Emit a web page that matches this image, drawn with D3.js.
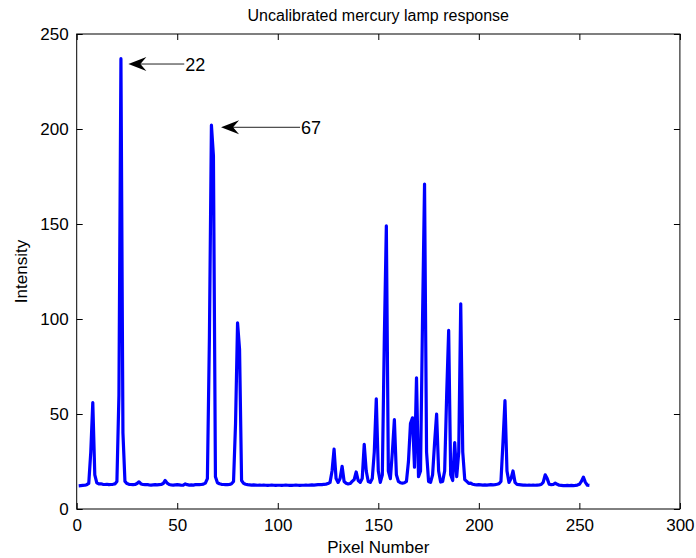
<!DOCTYPE html>
<html>
<head>
<meta charset="utf-8">
<script src="https://cdn.jsdelivr.net/npm/d3@7"></script>
<style>
  html, body { margin: 0; padding: 0; background: #fff; }
  svg text { font-family: "Liberation Sans", Arial, Helvetica, sans-serif; fill: #000; }
</style>
</head>
<body>
<svg id="chart" width="696" height="558"></svg>
<script>
// ---- Data ----
const title = "Uncalibrated mercury lamp response";
const xLabel = "Pixel Number";
const yLabel = "Intensity";
const xTicks = [0, 50, 100, 150, 200, 250, 300];
const yTicks = [0, 50, 100, 150, 200, 250];
const pixelStart = 1;
const intensity = [
  12.2, 12.3, 12.4, 12.5, 12.8, 13.5, 30, 56, 18, 13.8,
  13.2, 13.3, 13.0, 12.9, 13.0, 12.8, 12.9, 13.0, 13.2, 14.5,
  60, 237, 40, 14.5, 13.4, 13.0, 12.9, 12.8, 12.9, 13.4,
  14.3, 13.2, 12.9, 12.8, 12.9, 12.7, 12.6, 12.7, 12.8, 12.7,
  12.8, 12.9, 13.4, 15.0, 13.6, 12.9, 12.7, 12.6, 12.7, 12.8,
  12.7, 12.5, 12.6, 13.2, 12.8, 12.6, 12.7, 12.6, 12.8, 12.9,
  12.8, 12.9, 13.1, 13.6, 16, 90, 202, 186, 17, 13.8,
  13.3, 13.0, 12.9, 12.8, 12.8, 12.9, 13.3, 14.5, 45, 98,
  84, 15, 13.5, 13.0, 12.8, 12.7, 12.6, 12.7, 12.6, 12.5,
  12.6, 12.5, 12.6, 12.5, 12.4, 12.5, 12.6, 12.5, 12.4, 12.5,
  12.5, 12.4, 12.5, 12.6, 12.5, 12.4, 12.4, 12.5, 12.6, 12.5,
  12.4, 12.5, 12.5, 12.6, 12.5, 12.6, 12.7, 12.6, 12.7, 12.8,
  12.9, 12.8, 13.0, 13.1, 13.4, 14.0, 20, 31.5, 16, 14.0,
  16, 22.5, 14.5, 13.6, 13.2, 13.4, 14.5, 15.5, 19.5, 15.0,
  14.0, 16, 34, 20, 14.5, 14.0, 16, 30, 58, 20,
  14.0, 18, 90, 149, 20, 16, 30, 47, 18, 14.5,
  13.8, 13.6, 13.8, 14.5, 25, 45, 48, 22, 69, 17,
  20, 100, 171, 30, 14.5, 14.0, 18, 35, 50, 20,
  14.2, 14.5, 20, 60, 94, 18, 15, 35, 17, 30,
  108, 30, 15.5, 14.5, 13.5, 13.6, 13.0, 12.8, 12.7, 12.8,
  12.7, 12.6, 12.7, 12.6, 12.7, 12.8, 12.7, 12.8, 13.0, 13.3,
  14.5, 35, 57, 20, 14.0, 16, 20, 14, 12.9, 12.8,
  12.7, 12.6, 12.6, 12.5, 12.6, 12.5, 12.6, 12.5, 12.6, 12.7,
  12.9, 14.0, 18, 16, 13.0, 12.8, 12.9, 13.6, 13.0, 12.5,
  12.4, 12.3, 12.3, 12.4, 12.3, 12.4, 12.3, 12.4, 12.6, 13.0,
  14.5, 16.8, 14.0, 12.5, 12.4
];
const annotationLabels = ["22", "67"];
const annotationTipX = [25.7, 71.8];
const annotationTipY = [234.2, 200.9];
const annotationTailX = [53.5, 111.1];

// ---- Layout ----
const svg = d3.select("#chart");
const margin = { left: 76.7, right: 696 - 679.9, top: 34, bottom: 558 - 509 };
const W = 696, H = 558;
const x = d3.scaleLinear().domain([0, 300]).range([margin.left, W - margin.right]);
const y = d3.scaleLinear().domain([0, 250]).range([H - margin.bottom, margin.top]);

const tickLen = 6;
const fontTick = 17;

// frame
svg.append("rect")
  .attr("x", x(0)).attr("y", y(250))
  .attr("width", x(300) - x(0)).attr("height", y(0) - y(250))
  .attr("fill", "none").attr("stroke", "#000").attr("stroke-width", 1);

// axes (inward ticks)
const xAxis = svg.append("g").attr("transform", `translate(0,${y(0)})`)
  .call(d3.axisBottom(x).tickValues(xTicks).tickSizeInner(-tickLen).tickSizeOuter(0).tickPadding(10));
const xAxisTop = svg.append("g").attr("transform", `translate(0,${y(250)})`)
  .call(d3.axisTop(x).tickValues(xTicks).tickSizeInner(-tickLen).tickSizeOuter(0).tickFormat(""));
const yAxis = svg.append("g").attr("transform", `translate(${x(0)},0)`)
  .call(d3.axisLeft(y).tickValues(yTicks).tickSizeInner(-tickLen).tickSizeOuter(0).tickPadding(8));
const yAxisRight = svg.append("g").attr("transform", `translate(${x(300)},0)`)
  .call(d3.axisRight(y).tickValues(yTicks).tickSizeInner(-tickLen).tickSizeOuter(0).tickFormat(""));

[xAxis, xAxisTop, yAxis, yAxisRight].forEach(g => {
  g.select(".domain").remove();
  g.selectAll("line").attr("stroke", "#000");
  g.selectAll("text").attr("font-size", fontTick).attr("font-family", "Liberation Sans, Arial, sans-serif").attr("fill", "#000");
});

// line
const line = d3.line()
  .x((d, i) => x(pixelStart + i))
  .y(d => y(d));
svg.append("path")
  .datum(intensity)
  .attr("d", line)
  .attr("fill", "none")
  .attr("stroke", "#0000ff")
  .attr("stroke-width", 3.2)
  .attr("stroke-linejoin", "round");

// annotations
annotationLabels.forEach((lab, i) => {
  const tx = x(annotationTipX[i]), ty = y(annotationTipY[i]);
  const ex = x(annotationTailX[i]);
  svg.append("line")
    .attr("x1", tx + 10).attr("y1", ty).attr("x2", ex).attr("y2", ty)
    .attr("stroke", "#222").attr("stroke-width", 1);
  const L = 18, hw = 7, notch = 6;
  svg.append("path")
    .attr("d", `M${tx},${ty} L${tx + L},${ty - hw} L${tx + L - notch},${ty} L${tx + L},${ty + hw} Z`)
    .attr("fill", "#000");
  svg.append("text")
    .attr("x", ex + 1).attr("y", ty)
    .attr("dy", "0.36em")
    .attr("font-size", 18)
    .text(lab);
});

// title and labels
svg.append("text")
  .attr("x", (x(0) + x(300)) / 2).attr("y", 21)
  .attr("text-anchor", "middle").attr("font-size", 16)
  .text(title);
svg.append("text")
  .attr("x", (x(0) + x(300)) / 2).attr("y", 553)
  .attr("text-anchor", "middle").attr("font-size", 17)
  .text(xLabel);
svg.append("text")
  .attr("transform", `translate(27,${(y(0) + y(250)) / 2}) rotate(-90)`)
  .attr("text-anchor", "middle").attr("font-size", 17)
  .text(yLabel);
</script>
</body>
</html>
